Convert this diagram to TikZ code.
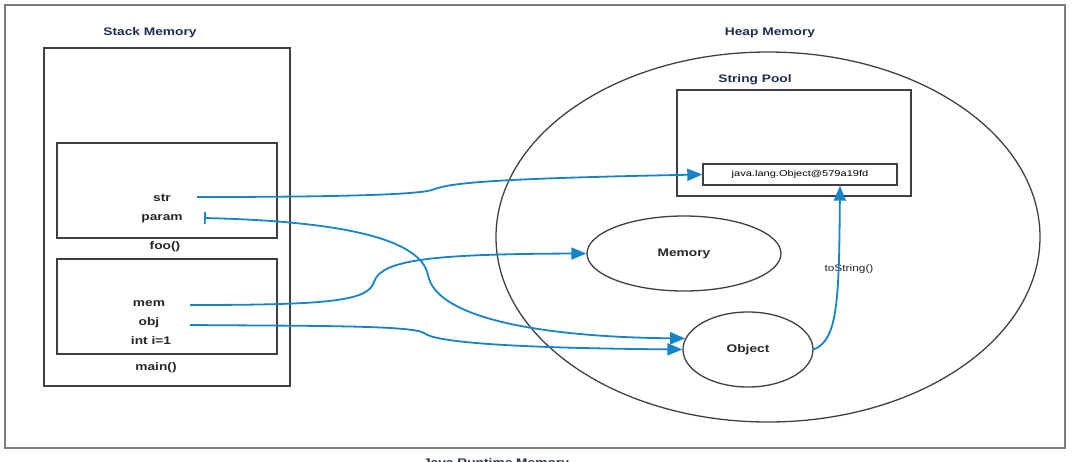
\documentclass[tikz,border=0pt]{standalone}
\usepackage{fontspec}
\setmainfont{Liberation Sans}
\usetikzlibrary{shapes.geometric,arrows.meta,positioning}
\definecolor{linkblue}{RGB}{22,132,198}
\definecolor{titlenavy}{RGB}{30,44,78}
\definecolor{framegray}{RGB}{125,125,125}
\tikzstyle{arrow} = [line width=1.8pt,draw=linkblue,-{Triangle[length=15pt,width=12pt]}]
\tikzset{box/.style={rectangle,draw=black!75,line width=1.4pt,inner sep=0pt},
  blob/.style={ellipse,draw=black!75,line width=1.3pt,inner sep=0pt},
  title/.style={font=\bfseries\fontsize{11}{13}\selectfont,text=titlenavy,xscale=1.25},
  var/.style={font=\bfseries\fontsize{11}{13}\selectfont,text=black!85,xscale=1.25}}

\begin{document}
\begin{tikzpicture}[x=1pt,y=-1pt]
    \useasboundingbox (0,0) rectangle (1077,461);
    \node [box, draw=framegray, line width=1.6pt, minimum width=1060, minimum height=443] (runtime) at (535,226.5) {};
    \node [title, anchor=base] (runtimelabel) at (496,466) {Java Runtime Memory};

    % stack side
    \node [title] (stacklabel) at (150,33) {Stack Memory};
    \node [box, minimum width=246, minimum height=338] (stack) at (167,217) {};
    \node [box, minimum width=220, minimum height=95] (foo) at (167,190.5) {};
    \node [box, minimum width=220, minimum height=95] (main) at (167,306.5) {};
    \node [var] (foolabel) at (165,247) {foo()};
    \node [var] (mainlabel) at (156,368) {main()};
    \node [var] (str) at (162,198) {str};
    \node [var] (param) at (162,219) {param};
    \node [var] (mem) at (149,304) {mem};
    \node [var] (obj) at (149,323) {obj};
    \node [var] (inti) at (151,341) {int i=1};

    % heap side
    \node [title] (heaplabel) at (770,33) {Heap Memory};
    \node [blob, minimum width=544, minimum height=370] (heap) at (768,237) {};
    \node [title] (poollabel) at (755,80) {String Pool};
    \node [box, minimum width=194, minimum height=21, font=\fontsize{8.5}{10}\selectfont] (java) at (800,174.5) {\scalebox{1.3}[1]{java.lang.Object@579a19fd}};
    \node [box, minimum width=234, minimum height=106] (pool) at (794,143) {};
    \node [blob, minimum width=194, minimum height=75] (memory) at (684,253.5) {};
    \node [var] (memorylabel) at (memory) {Memory};
    \node [blob, minimum width=130, minimum height=75] (object) at (748,349.5) {};
    \node [var] (objectlabel) at (object) {Object};
    \node [var, font=\fontsize{9.5}{11}\selectfont] (tostring) at (849,269) {toString()};

    \draw [arrow] (197,197) .. controls (330,197) and (415,195) .. (432,190)
        .. controls (448,184) and (470,179) .. (java.west);
    \draw [arrow, arrows={Bar[width=12pt]-{Triangle[length=15pt,width=12pt]}}] (204,218) .. controls (330,221) and (420,236) .. (428,275)
        .. controls (436,318) and (540,337) .. (object.170);
    \draw [arrow] (190,305) .. controls (330,305) and (368,301) .. (374,282)
        .. controls (381,260) and (430,254) .. (memory.west);
    \draw [arrow] (190,325) .. controls (300,326) and (412,325) .. (424,333)
        .. controls (436,343) and (520,348) .. (object.west);
    \draw [arrow] (object.east) .. controls (838,340) and (839,300) .. ([xshift=40pt]java.south);
\end{tikzpicture}
\end{document}
